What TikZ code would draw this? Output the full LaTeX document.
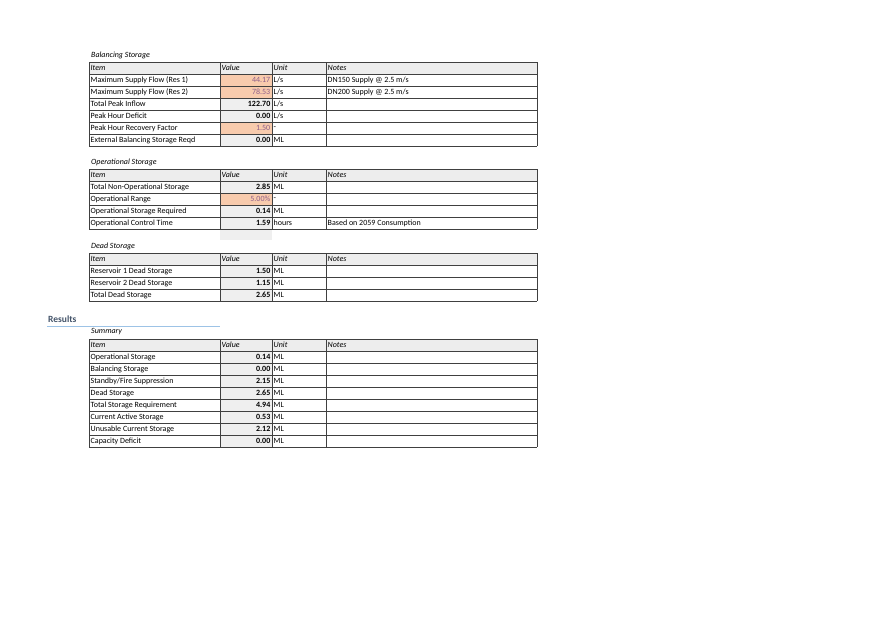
\documentclass[tikz,border=0pt]{standalone}
\usepackage{fontspec}
\setmainfont{Carlito}
\definecolor{hdrgray}{HTML}{EDEDED}
\definecolor{valgray}{HTML}{EFEFEF}
\definecolor{inorange}{HTML}{F8CBAD}
\definecolor{intext}{HTML}{8E5F8A}
\definecolor{rule}{HTML}{9DC3E6}
\definecolor{headblue}{HTML}{44546A}
\newcommand{\Lps}{L/s}
\newcommand{\notea}{DN150 Supply @ 2.5 m/s}
\newcommand{\noteb}{DN200 Supply @ 2.5 m/s}
\newcommand{\standby}{Standby/Fire Suppression}
\tikzset{
  cell/.style={inner sep=1.5pt, anchor=west, font=\fontsize{8}{9}\selectfont},
  num/.style={inner sep=1.5pt, anchor=east, font=\fontsize{8}{9}\selectfont},
  title/.style={inner sep=0pt, anchor=west, font=\fontsize{8}{9}\selectfont\itshape},
  grid/.style={draw=black!75, line width=0.6pt}
}
% one table: top y, title, rows as item/value/unit/note/kind
\newcommand{\sheettable}[3]{%
  \node[title] at (91,#1-7) {#2};
  \fill[hdrgray] (89,#1) rectangle (537,#1+12);
  \node[cell,font=\fontsize{8}{9}\selectfont\itshape] at (89,#1+6) {Item};
  \node[cell,font=\fontsize{8}{9}\selectfont\itshape] at (220,#1+6) {Value};
  \node[cell,font=\fontsize{8}{9}\selectfont\itshape] at (272,#1+6) {Unit};
  \node[cell,font=\fontsize{8}{9}\selectfont\itshape] at (326,#1+6) {Notes};
  \foreach [count=\i] \itm/\va/\un/\no/\kd in {#3} {
    \pgfmathsetmacro{\ry}{#1+12*\i}
    \ifnum\kd=1
      \fill[inorange] (220,\ry) rectangle (272,\ry+12);
      \node[num,text=intext] at (272,\ry+6) {\va};
    \else
      \fill[valgray] (220,\ry) rectangle (272,\ry+12);
      \node[num] at (272,\ry+6) {\bfseries\va};
    \fi
    \node[cell] at (89,\ry+6) {\itm};
    \node[cell] at (272,\ry+6) {\un};
    \node[cell] at (326,\ry+6) {\no};
    \draw[grid] (89,\ry) -- (537,\ry);
    \xdef\lasty{\ry}
  }
  \draw[grid] (89,\lasty+12) -- (537,\lasty+12);
  \foreach \cx in {89,220,272,326,537}
    \draw[grid] (\cx,#1) -- (\cx,\lasty+12);
  \draw[grid] (89,#1) -- (537,#1);
}
\begin{document}
\begin{tikzpicture}[x=1pt, y=-1pt]
\useasboundingbox[fill=white] (0,0) rectangle (893,626);

\sheettable{62}{Balancing Storage}{
  Maximum Supply Flow (Res 1)/44.17/\Lps/\notea/1,
  Maximum Supply Flow (Res 2)/78.53/\Lps/\noteb/1,
  Total Peak Inflow/122.70/\Lps//0,
  Peak Hour Deficit/0.00/\Lps//0,
  Peak Hour Recovery Factor/1.50/-//1,
  External Balancing Storage Reqd/0.00/ML//0}

\sheettable{169}{Operational Storage}{
  Total Non-Operational Storage/2.85/ML//0,
  Operational Range/5.00\%/-//1,
  Operational Storage Required/0.14/ML//0,
  Operational Control Time/1.59/hours/Based on 2059 Consumption/0}
\fill[valgray] (220,230) rectangle (272,240);

\sheettable{253}{Dead Storage}{
  Reservoir 1 Dead Storage/1.50/ML//0,
  Reservoir 2 Dead Storage/1.15/ML//0,
  Total Dead Storage/2.65/ML//0}

\node[inner sep=0pt, anchor=west, text=headblue,
  font=\fontsize{9.5}{11}\selectfont\bfseries] (results) at (48,319) {Results};
\draw[rule, line width=1.5pt] (47,326.5) -- (220,326.5);

\sheettable{339}{Summary}{
  Operational Storage/0.14/ML//0,
  Balancing Storage/0.00/ML//0,
  \standby/2.15/ML//0,
  Dead Storage/2.65/ML//0,
  Total Storage Requirement/4.94/ML//0,
  Current Active Storage/0.53/ML//0,
  Unusable Current Storage/2.12/ML//0,
  Capacity Deficit/0.00/ML//0}
\end{tikzpicture}
\end{document}
